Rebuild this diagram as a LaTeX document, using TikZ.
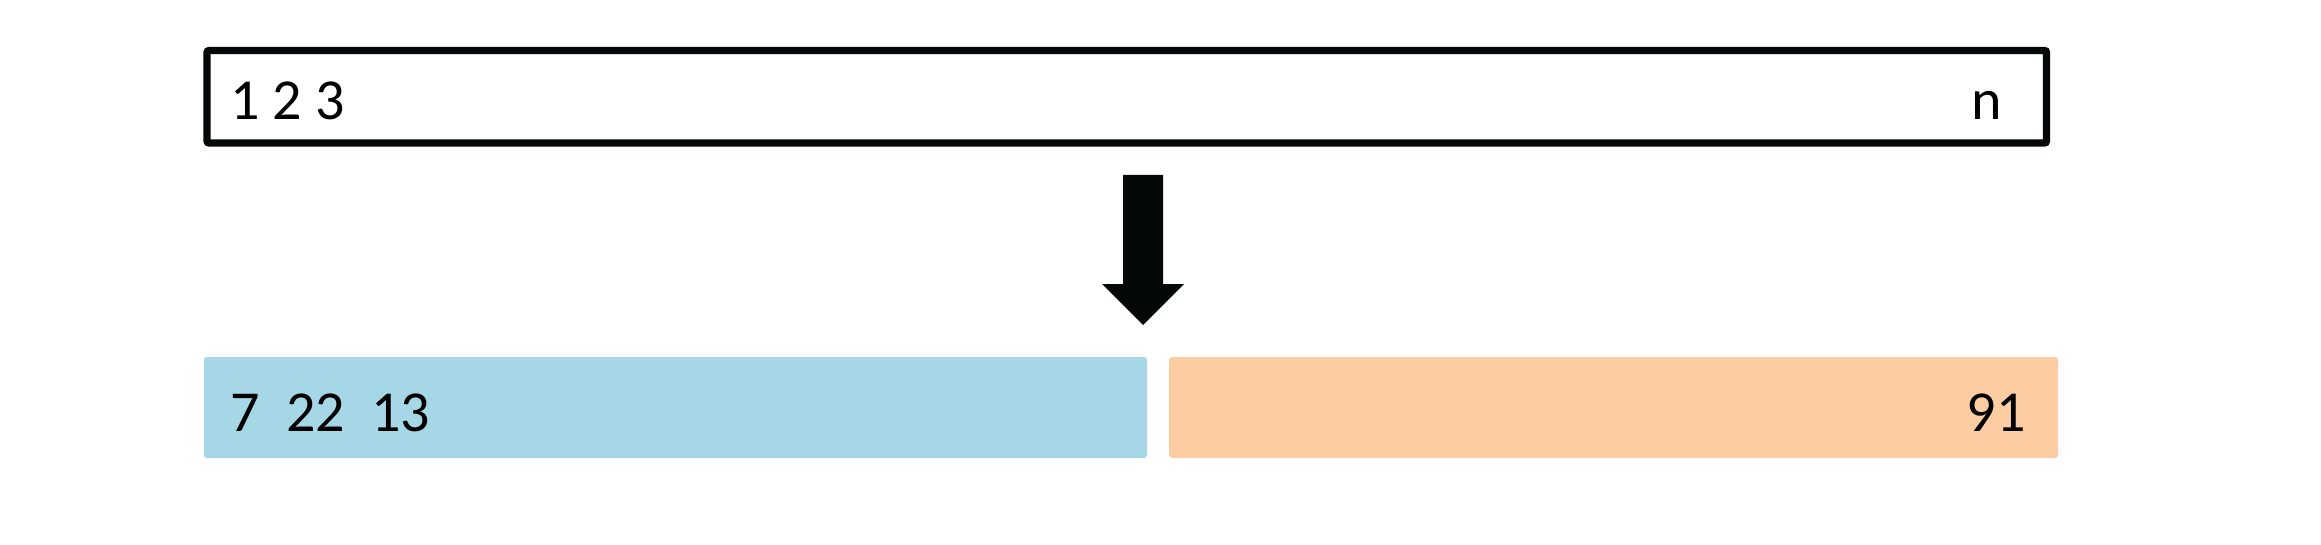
\documentclass[tikz,border=0pt]{standalone}
\usepackage{fontspec}
\setmainfont{Carlito}
\usetikzlibrary{calc}
\definecolor{splitblue}{HTML}{A5D7E6}
\definecolor{splitorange}{HTML}{FCCCA2}
\definecolor{arrowblack}{HTML}{040809}
\tikzset{
  numtext/.style={inner sep=0pt, font=\fontsize{29}{30}\selectfont},
  part/.style={anchor=north west, inner sep=0pt, outer sep=0pt,
    rounded corners=1.5pt, minimum height=50.5pt}
}
\begin{document}
\begin{tikzpicture}[x=0.5pt,y=-0.5pt]
      \useasboundingbox (0,0) rectangle (2321,545);
      % input sequence
      \node (seq) [draw=arrowblack, line width=3.6pt, rounded corners=1pt,
        anchor=north west, inner sep=0pt, outer sep=0pt,
        minimum width=919.75pt, minimum height=46.25pt] at (207,50.5) {};
      \node (first) [numtext, anchor=base west] at (230,120) {1 2 3};
      \node (last) [numtext, anchor=base east] at (2002,120) {n};
      % split parts
      \node (left) [part, fill=splitblue, minimum width=471.5pt] at (204,357) {};
      \node (right) [part, fill=splitorange, minimum width=444.5pt] at (1169,357) {};
      \node (leftnums) [numtext, anchor=base west] at (230,431) {7\ \ 22\ \ 13};
      \node (rightnums) [numtext, anchor=base east] at (2026,431) {91};
      % arrow
      \coordinate (atop) at (1143,175);
      \coordinate (atip) at (1143,325);
      \fill[arrowblack] ($(atop)+(-20,0)$) -- ($(atop)+(20,0)$)
        -- ($(atip)+(20,-41)$) -- ($(atip)+(41,-41)$) -- (atip)
        -- ($(atip)+(-41,-41)$) -- ($(atip)+(-20,-41)$) -- cycle;
    \end{tikzpicture}
\end{document}
